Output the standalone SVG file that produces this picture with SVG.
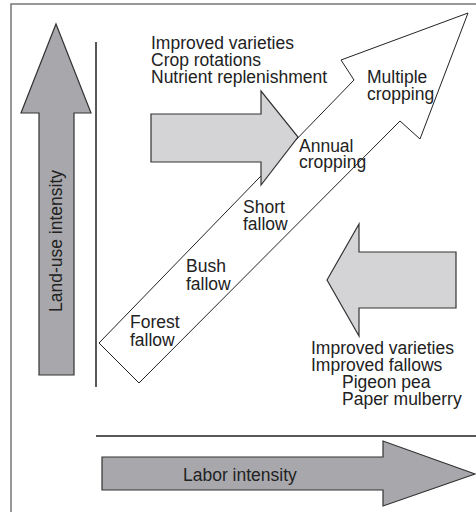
<svg xmlns="http://www.w3.org/2000/svg" width="476" height="512" viewBox="0 0 476 512">
<style>
.t{font-family:"Liberation Sans",Arial,sans-serif;font-size:17.5px;fill:#222}
.dark{fill:#a8a8ac;stroke:#333;stroke-width:1.2}
.light{fill:#d4d4d6;stroke:#333;stroke-width:1.2}
.line{stroke:#222;stroke-width:1.5;fill:none}
</style>
<rect x="0" y="0" width="476" height="512" fill="#fff"/>
<rect x="11" y="4" width="480" height="520" fill="none" stroke="#777" stroke-width="1.5"/>
<g id="axes">
<line class="line" x1="96" y1="42" x2="96" y2="387"/>
<line class="line" x1="96" y1="436" x2="476" y2="436"/>
</g>
<g id="land-use-arrow">
<polygon class="dark" points="56,24 91,113 74,113 74,375 39,375 39,113 21,113"/>
<text class="t" transform="translate(62,312) rotate(-90)">Land-use intensity</text>
</g>
<g id="labor-arrow">
<polygon class="dark" points="102,457 383,457 383,441 475,474 383,506 383,490 102,490"/>
<text class="t" x="183" y="481">Labor intensity</text>
</g>
<g id="intensification-arrow">
<polygon points="99,343 354,80 341,60 468,13 420,139 400,121 139,383" fill="#fff" stroke="#222" stroke-width="1"/>
</g>
<g id="inputs-top">
<polygon class="light" points="151,114 261,114 261,91 298,137 261,185 261,162 151,162"/>
<text class="t"><tspan x="151" y="49">Improved varieties</tspan><tspan x="151" y="66">Crop rotations</tspan><tspan x="151" y="83">Nutrient replenishment</tspan></text>
</g>
<g id="inputs-bottom">
<polygon class="light" points="327,280 359,224 359,252 456,252 456,308 359,308 359,336"/>
<text class="t"><tspan x="311" y="354">Improved varieties</tspan><tspan x="311" y="371">Improved fallows</tspan><tspan x="342" y="388">Pigeon pea</tspan><tspan x="342" y="405">Paper mulberry</tspan></text>
</g>
<g id="stage-forest"><text class="t"><tspan x="130" y="328">Forest</tspan><tspan x="130" y="346">fallow</tspan></text></g>
<g id="stage-bush"><text class="t"><tspan x="186" y="272">Bush</tspan><tspan x="186" y="290">fallow</tspan></text></g>
<g id="stage-short"><text class="t"><tspan x="243" y="213">Short</tspan><tspan x="243" y="230">fallow</tspan></text></g>
<g id="stage-annual"><text class="t"><tspan x="299" y="152">Annual</tspan><tspan x="299" y="168">cropping</tspan></text></g>
<g id="stage-multiple"><text class="t"><tspan x="367" y="83">Multiple</tspan><tspan x="367" y="100">cropping</tspan></text></g>
</svg>
